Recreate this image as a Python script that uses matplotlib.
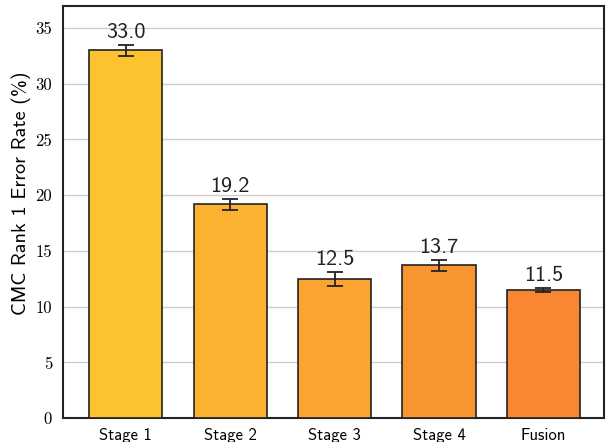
import matplotlib
matplotlib.use("Agg")
import matplotlib.pyplot as plt

stages = ["Stage 1", "Stage 2", "Stage 3", "Stage 4", "Fusion"]
error_rate = [33.0, 19.2, 12.5, 13.7, 11.5]
error_std = [0.5, 0.5, 0.65, 0.48, 0.18]
colors = ["#fdc22f", "#fbb231", "#fba431", "#f99531", "#f98633"]

fig = plt.figure(figsize=(6.07, 4.42), dpi=100)
ax = fig.add_axes([0.104, 0.054, 0.891, 0.932])

x = range(len(stages))
ax.bar(x, error_rate, width=0.7, color=colors, edgecolor="#222222", linewidth=1.2,
       yerr=error_std, capsize=6, error_kw=dict(ecolor="#222222", elinewidth=1.3, capthick=1.3),
       zorder=3)

for i, (v, s) in enumerate(zip(error_rate, error_std)):
    ax.text(i, v + s + 0.25, f"{v:.1f}", ha="center", va="bottom",
            fontsize=16, family="cmss10", color="#222222")

ax.set_xlim(-0.6, 4.58)
ax.set_ylim(0, 36.96)
ax.set_xticks(list(x))
ax.set_xticklabels(stages, family="cmss10", fontsize=12)
ax.set_yticks([0, 5, 10, 15, 20, 25, 30, 35])
for lbl in ax.get_yticklabels():
    lbl.set_family("cmr10")
    lbl.set_fontsize(12)
ax.tick_params(axis="y", length=0, pad=8)
ax.tick_params(axis="x", length=0, pad=7)
ax.set_ylabel("CMC Rank 1 Error Rate (%)", family="cmss10", fontsize=14.5)
ax.yaxis.set_label_coords(-0.06, 0.545)

ax.yaxis.grid(True, color="#cccccc", linewidth=0.9, zorder=0)
ax.set_axisbelow(True)
for sp in ax.spines.values():
    sp.set_color("#222222")
    sp.set_linewidth(1.5)

fig.savefig("out.png", dpi=100)
